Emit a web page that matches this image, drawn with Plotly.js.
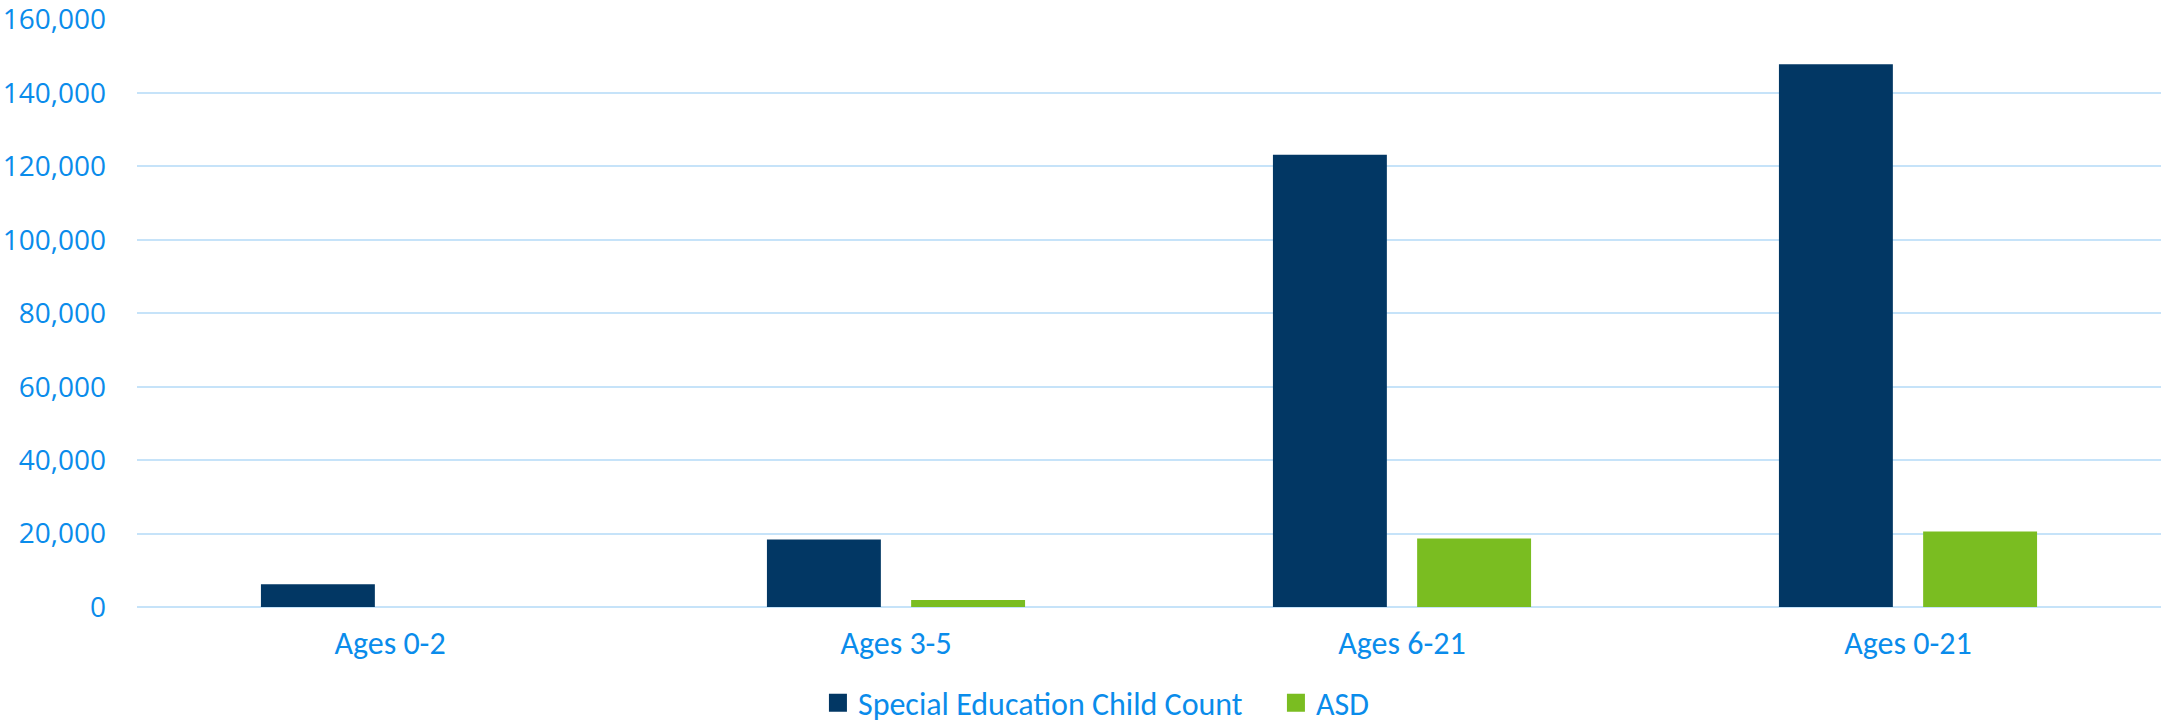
<!DOCTYPE html>
<html>
<head>
<meta charset="utf-8">
<script src="https://cdn.plot.ly/plotly-3.0.1.min.js"></script>
<style>html,body{margin:0;padding:0;background:#fff;}#chart{width:2165px;height:727px;}</style>
</head>
<body>
<div id="chart"></div>
<script>
const categories = ["Ages 0-2", "Ages 3-5", "Ages 6-21", "Ages 0-21"];
const specialEdCount = [6200, 18400, 123200, 147800];
const asdCount = [0, 1900, 18650, 20550];
const seriesNames = ["Special Education Child Count", "ASD"];
const yTickVals = [0, 20000, 40000, 60000, 80000, 100000, 120000, 140000, 160000];
const yTickText = ["0", "20,000", "40,000", "60,000", "80,000", "100,000", "120,000", "140,000", "160,000"];

const textColor = "#0A8CEB";
const labelFont = "Carlito, Calibri, Lato, sans-serif";

const traces = [
  {type: "bar", name: seriesNames[0], x: categories, y: specialEdCount,
   marker: {color: "#023764", line: {width: 0}}, hoverinfo: "x+y"},
  {type: "bar", name: seriesNames[1], x: categories, y: asdCount,
   marker: {color: "#7ABD21", line: {width: 0}}, hoverinfo: "x+y"}
];

const layout = {
  width: 2165, height: 727,
  margin: {l: 137, r: 4, t: 19, b: 120, pad: 0, autoexpand: false},
  paper_bgcolor: "#ffffff", plot_bgcolor: "#ffffff",
  barmode: "group", bargap: 0.43, bargroupgap: 0.21,
  showlegend: true,
  legend: {orientation: "h", xref: "container", x: 0.3778, xanchor: "left",
           y: -0.163, yanchor: "middle", itemwidth: 30, entrywidth: 413,
           font: {family: labelFont, size: 32, color: textColor}, itemclick: false},
  xaxis: {type: "category", showgrid: false, zeroline: false, showline: false, automargin: false,
          ticks: "", tickfont: {family: labelFont, size: 32, color: textColor}, ticklabelstandoff: 14},
  yaxis: {range: [0, 160150], tickvals: yTickVals, ticktext: yTickText, automargin: false,
          ticklabeloverflow: "allow",
          showgrid: true, gridcolor: "#C6E3F9", gridwidth: 2,
          zeroline: true, zerolinecolor: "#C6E3F9", zerolinewidth: 2, showline: false, ticks: "",
          tickfont: {family: "'Open Sans', sans-serif", size: 28, color: textColor}, ticklabelstandoff: 30}
};

Plotly.newPlot("chart", traces, layout, {displayModeBar: false, staticPlot: true}).then(function (gd) {
  gd.querySelectorAll(".legendpoints path").forEach(function (p) {
    const t = p.getAttribute("transform") || "";
    p.setAttribute("transform", t + " scale(1.5)");
  });
});
</script>
</body>
</html>
